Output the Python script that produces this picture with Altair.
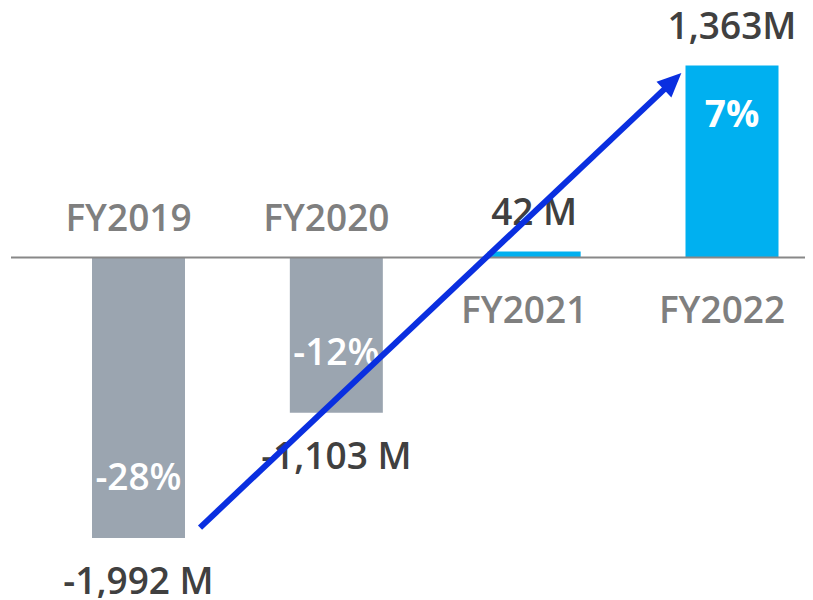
import altair as alt
import pandas as pd

categories = ["FY2019", "FY2020", "FY2021", "FY2022"]
values = [-1992, -1103, 42, 1363]
value_labels = ["-1,992 M", "-1,103 M", "42 M", "1,363M"]
pct_labels = ["-28%", "-12%", "", "7%"]
bar_colors = ["#9BA5B0", "#9BA5B0", "#00B0F0", "#00B0F0"]

# arrow annotation (category index, value)
arrow_x = [0.311, 2.70]
arrow_y = [-1918, 1251]

df = pd.DataFrame({
    "cat": categories,
    "idx": list(range(len(categories))),
    "value": values,
    "vlabel": value_labels,
    "plabel": pct_labels,
    "color": bar_colors,
})
arrow_df = pd.DataFrame({"ax": arrow_x, "ay": arrow_y, "order": [0, 1]})

FONT = "Open Sans"
FS = 37
W, H = 797, 590
xs = alt.Scale(domain=[0, 3], range=[130.5, 724], padding=0, nice=False, zero=False)
ys = alt.Scale(domain=[-2418, 1772], nice=False, zero=False, padding=0)

X = alt.X("idx:Q", scale=xs, axis=None)
Y = alt.Y("value:Q", scale=ys, axis=None)

base = alt.Chart(df)

bars = base.mark_bar(size=93).encode(
    x=X, y=Y, y2=alt.datum(0),
    color=alt.Color("color:N", scale=None),
)

zero = alt.Chart(pd.DataFrame({"v": [0]})).mark_rule(color="#888888", strokeWidth=2).encode(
    y=alt.Y("v:Q", scale=ys, axis=None), x=alt.value(3), x2=alt.value(W),
)

neg = alt.datum.value < 0
pos = alt.datum.value >= 0

cat_neg = base.transform_filter(neg).transform_calculate(z="0").mark_text(
    font=FONT, fontSize=FS, fontWeight=600, color="#7F7F7F", dy=-38, dx=-10, baseline="middle"
).encode(x=X, y=alt.Y("z:Q", scale=ys, axis=None), text="cat:N")

cat_pos = base.transform_filter(pos).transform_calculate(z="0").mark_text(
    font=FONT, fontSize=FS, fontWeight=600, color="#7F7F7F", dy=54, dx=-10, baseline="middle"
).encode(x=X, y=alt.Y("z:Q", scale=ys, axis=None), text="cat:N")

val_neg = base.transform_filter(neg).mark_text(
    font=FONT, fontSize=FS, fontWeight=600, color="#404040", dy=45, baseline="middle"
).encode(x=X, y=Y, text="vlabel:N")

val_pos = base.transform_filter(pos).mark_text(
    font=FONT, fontSize=FS, fontWeight=600, color="#404040", dy=-38, baseline="middle"
).encode(x=X, y=Y, text="vlabel:N")

pct_neg = base.transform_filter(neg).mark_text(
    font=FONT, fontSize=FS, fontWeight=600, color="white", dy=-59, baseline="middle"
).encode(x=X, y=Y, text="plabel:N")

pct_pos = base.transform_filter(pos).mark_text(
    font=FONT, fontSize=FS, fontWeight=700, color="white", dy=50, baseline="middle"
).encode(x=X, y=Y, text="plabel:N")

arrow_line = alt.Chart(arrow_df).mark_line(color="#0A2FE0", strokeWidth=6, strokeCap="butt").encode(
    x=alt.X("ax:Q", scale=xs, axis=None),
    y=alt.Y("ay:Q", scale=ys, axis=None),
    order="order:Q",
)

arrow_head = alt.Chart(arrow_df).transform_filter(alt.datum.order == 1).mark_point(
    shape="M0,-1L-0.9,1L0.9,1Z", size=576, filled=True, opacity=1,
    color="#0A2FE0", angle=46.6,
).encode(
    x=alt.X("ax:Q", scale=xs, axis=None),
    y=alt.Y("ay:Q", scale=ys, axis=None),
)

chart = alt.layer(
    bars, zero, cat_neg, cat_pos, val_neg, val_pos, pct_neg, pct_pos, arrow_line, arrow_head
).properties(
    width=W, height=H, autosize=alt.AutoSizeParams(type="none"), padding=0
).configure_view(stroke=None)

chart.save("out.html", embed_options={"renderer": "svg", "actions": False})
